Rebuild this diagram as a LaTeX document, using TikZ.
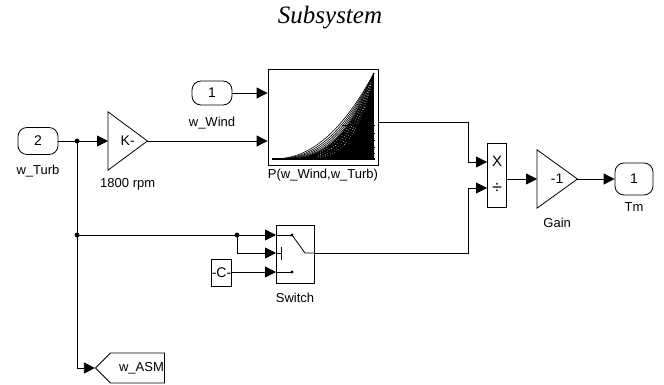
\documentclass[tikz,border=0pt]{standalone}
\usepackage{fontspec}
\setmainfont{Liberation Serif}
\setsansfont{Liberation Sans}
\usetikzlibrary{positioning,shapes.symbols,arrows.meta}
\tikzset{sig/.style={-{Triangle[length=11pt,width=11pt]},line width=0.8pt},
  wire/.style={line width=0.8pt},
  port/.style={draw,line width=0.8pt,rounded corners=9pt,inner sep=0pt,font=\sffamily\fontsize{14}{16}\selectfont},
  blk/.style={draw,line width=0.8pt,inner sep=0pt,font=\sffamily\fontsize{14}{16}\selectfont},
  amp/.style={inner sep=0pt,anchor=west,font=\sffamily\fontsize{14}{16}\selectfont,
    append after command={\pgfextra{\draw[line width=0.8pt] (\tikzlastnode.north west) -- (\tikzlastnode.east) -- (\tikzlastnode.south west) -- cycle;}}},
  lbl/.style={font=\sffamily\fontsize{13}{15}\selectfont,inner sep=1pt},
  jdot/.style={circle,fill,inner sep=1.7pt}}

\begin{document}
\begin{tikzpicture}[x=1pt,y=-1pt]
  \useasboundingbox (0,0) rectangle (664,385);
  \node[font=\itshape\fontsize{25}{28}\selectfont] (title) at (330,18) {Subsystem};

  % blocks
  \node[port,minimum width=40pt,minimum height=27pt] (in2) at (38,141) {2};
  \node[lbl,below=9pt of in2] (lturb) {w\_Turb};
  \node[port,minimum width=40pt,minimum height=24pt] (in1) at (212,93) {1};
  \node[lbl,below=10pt of in1] (lwind) {w\_Wind};
  \node[amp,minimum width=39pt,minimum height=58pt] (kgain) at (108,141) {K-\hspace{18pt}};
  \node[lbl,below=7pt of kgain] (lrpm) {1800 rpm};
  \node[blk,minimum width=110pt,minimum height=96pt] (lookup) at (323,117) {};
  \node[lbl,below=2pt of lookup] (llookup) {P(w\_Wind,w\_Turb)};
  \node[blk,minimum width=19pt,minimum height=64pt] (prod) at (497,175) {};
  \node[font=\sffamily\fontsize{15}{17}\selectfont,inner sep=0pt] (mul) at (497,161) {X};
  \node[font=\sffamily\fontsize{18}{20}\selectfont,inner sep=0pt] (dvd) at (497,188) {÷};
  \node[amp,minimum width=40pt,minimum height=58pt] (gneg) at (537,179) {-1\hspace{14pt}};
  \node[lbl,below=9pt of gneg] (lgain) {Gain};
  \node[port,minimum width=38pt,minimum height=32pt] (outtm) at (634,179) {1};
  \node[lbl,below=6pt of outtm] (ltm) {Tm};
  \node[blk,minimum width=38pt,minimum height=58pt] (switch) at (295,254) {};
  \node[lbl,below=8pt of switch] (lswitch) {Switch};
  \node[blk,minimum width=19pt,minimum height=27pt] (const) at (221.5,273) {-C-};
  \node[draw,line width=0.8pt,signal,signal to=west,signal pointer angle=90,inner sep=0pt,
        minimum width=69pt,minimum height=30pt,font=\sffamily\fontsize{13}{15}\selectfont] (goto) at (137.5,368) {\hspace{8pt}w\_ASM};

  % lookup table curves
  \fill (272,159) -- plot[domain=0:1,samples=40] ({272+102*\x},{159-86*\x^3.1}) -- (374,159) -- cycle;
  \foreach \p in {2.2,2.4,2.6,2.8,3.0}
    \draw[line width=0.6pt] plot[domain=0:1,samples=40] ({272+102*\x},{159-86*\x^\p});
  \foreach \p in {3.4,3.9,4.5,5.2}
    \draw[white,line width=0.5pt,dotted] plot[domain=0.45:0.97,samples=30] ({272+102*\x},{159-86*\x^\p});
  \foreach \yy in {126,134,141,148,154}
    \draw[line width=1pt] (342,\yy) -- (375,\yy);
  \draw[line width=2pt] (272,159) -- (375,159);

  % switch symbol
  \draw[wire] (276,235) -- (292,235);
  \fill (292,235) circle (1.6pt);
  \draw[wire] (276,272) -- (292,272);
  \fill (292,272) circle (1.6pt);
  \draw[wire] (276,253) -- (281,253);
  \draw[wire] (281,247) -- (281,260);
  \draw[wire] (292,235) -- (305,253) -- (314,253);

  % junctions
  \coordinate (j1) at (77,141);
  \coordinate (j2) at (77,235);
  \coordinate (j3) at (237,235);
  \node[jdot] (d1) at (j1) {};
  \node[jdot] (d2) at (j2) {};
  \node[jdot] (d3) at (j3) {};

  % signals
  \draw[sig] (in2.east) -- (kgain.west);
  \draw[sig] (kgain.east) -- (kgain.east -| lookup.west);
  \draw[sig] (in1.east) -- (in1.east -| lookup.west);
  \draw[sig] ([yshift=-5pt]lookup.east) -| (468,162) -- (487,162);
  \draw[sig] (j1) -- (77,368) -- (goto.west);
  \draw[sig] (j2) -- (276,235);
  \draw[sig] (j3) -- (237,253) -- (276,253);
  \draw[sig] (const.east |- 0,272) -- (276,272);
  \draw[sig] (switch.east |- 0,253) -| (468,188) -- (487,188);
  \draw[sig] (prod.east |- gneg.west) -- (gneg.west);
  \draw[sig] (gneg.east) -- (gneg.east -| outtm.west);
\end{tikzpicture}
\end{document}
